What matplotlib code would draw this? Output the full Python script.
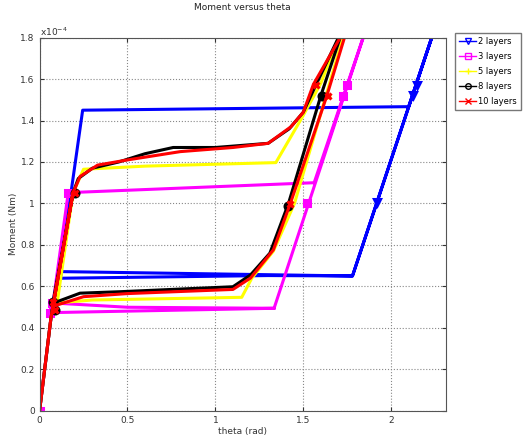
import matplotlib
matplotlib.use("Agg")
import matplotlib.pyplot as plt
from matplotlib.lines import Line2D
from matplotlib.ticker import FuncFormatter
import numpy as np

# moment values in units of 1e-4 Nm
SCALE = 1e-4

labels = ["2 layers", "3 layers", "5 layers", "8 layers", "10 layers"]

# 2 layers
theta_2 = [0, 0.065, 0.17, 0.245, 2.10, 2.27, 2.10, 1.78, 0.125, 0.118, 1.30, 1.78, 2.27]
moment_2 = [0, 0.45, 1.0, 1.45, 1.467, 1.90, 1.467, 0.65, 0.671, 0.639, 0.652, 0.65, 1.90]
mark_theta_2 = [1.917, 2.122, 2.145]
mark_moment_2 = [1.009, 1.524, 1.572]

# 3 layers
theta_3 = [0, 0.065, 0.163, 1.562, 1.88, 1.334, 0.059, 0.068, 0.5, 1.334]
moment_3 = [0, 0.45, 1.052, 1.10, 1.90, 0.494, 0.473, 0.52, 0.499, 0.494]
mark_theta_3 = [0, 0.163, 0.068, 0.059, 1.524, 1.727, 1.748]
mark_moment_3 = [0, 1.052, 0.52, 0.473, 1.0, 1.519, 1.572]

# 5 layers
theta_5 = [0, 0.065, 0.19, 0.25, 0.6, 1.344, 1.49, 1.60, 1.70, 1.76,
           1.45, 1.33, 1.207, 1.15, 0.3, 0.1, 0.19]
moment_5 = [0, 0.45, 1.05, 1.165, 1.18, 1.197, 1.41, 1.58, 1.80, 1.90,
            1.0, 0.77, 0.639, 0.547, 0.534, 0.52, 1.05]
mark_theta_5 = [1.43, 1.64, 0.08, 0.2]
mark_moment_5 = [1.0, 1.52, 0.5, 1.05]

# 8 layers
theta_8 = [0, 0.065, 0.19, 0.22, 0.3, 0.45, 0.6, 0.76, 1.0, 1.3, 1.42, 1.5,
           1.56, 1.70, 1.745, 1.71, 1.60, 1.416, 1.31, 1.2, 1.10, 0.457,
           0.23, 0.075, 0.19]
moment_8 = [0, 0.45, 1.05, 1.12, 1.17, 1.2, 1.24, 1.27, 1.27, 1.29, 1.36, 1.44,
            1.55, 1.80, 1.90, 1.80, 1.52, 1.0, 0.76, 0.655, 0.598, 0.574,
            0.567, 0.518, 1.05]
mark_theta_8 = [1.416, 1.604, 0.077, 0.087, 0.2]
mark_moment_8 = [0.988, 1.52, 0.526, 0.486, 1.049]

# 10 layers
theta_10 = [0, 0.065, 0.19, 0.23, 0.33, 0.5, 0.8, 1.1, 1.3, 1.43, 1.5, 1.558,
            1.71, 1.77, 1.634, 1.425, 1.33, 1.2, 1.1, 0.5, 0.25, 0.1, 0.075,
            0.19]
moment_10 = [0, 0.45, 1.05, 1.13, 1.185, 1.21, 1.25, 1.27, 1.29, 1.37, 1.44,
             1.575, 1.80, 1.90, 1.519, 0.996, 0.776, 0.64, 0.585, 0.565, 0.55,
             0.51, 0.50, 1.05]
mark_theta_10 = [1.572, 1.638, 1.425, 0.077, 0.087, 0.2]
mark_moment_10 = [1.572, 1.519, 0.996, 0.526, 0.486, 1.049]

colors = ["#0000ff", "#ff00ff", "#ffff00", "#000000", "#ff0000"]
markers = ["v", "s", "+", "o", "x"]

series = [
    (theta_2, moment_2, mark_theta_2, mark_moment_2),
    (theta_3, moment_3, mark_theta_3, mark_moment_3),
    (theta_5, moment_5, mark_theta_5, mark_moment_5),
    (theta_8, moment_8, mark_theta_8, mark_moment_8),
    (theta_10, moment_10, mark_theta_10, mark_moment_10),
]

fig = plt.figure(figsize=(5.28, 4.43), dpi=100)
ax = fig.add_axes([0.075, 0.073, 0.769, 0.842])

for (t, m, mt, mm), c, mk in zip(series, colors, markers):
    ax.plot(t, np.array(m) * SCALE, color=c, lw=2.2, solid_joinstyle="round")
    ax.plot(mt, np.array(mm) * SCALE, ls="none", marker=mk, color=c,
            ms=5, mew=2.2)

ax.set_xlim(0, 2.31)
ax.set_ylim(0, 1.8e-4)
ax.set_xticks([0, 0.5, 1, 1.5, 2])
ax.set_yticks(np.arange(0, 1.81, 0.2) * SCALE)
ax.xaxis.set_major_formatter(FuncFormatter(lambda v, p: f"{v:g}"))
ax.yaxis.set_major_formatter(FuncFormatter(lambda v, p: f"{round(v / SCALE, 2):g}"))
ax.text(0, 1.0, r"x10$^{-4}$", transform=ax.transAxes, fontsize=6.5,
        color="#333333", ha="left", va="bottom")

ax.grid(True, ls=":", color="#888888", lw=0.8)
ax.tick_params(direction="in", top=True, right=True, labelsize=6.5,
               colors="#333333", length=3)
for s in ax.spines.values():
    s.set_color("#555555")
    s.set_linewidth(0.8)

ax.set_title("Moment versus theta", fontsize=6.5, color="#222222", pad=20)
ax.set_xlabel("theta (rad)", fontsize=6.5, color="#333333", labelpad=2)
ax.set_ylabel("Moment (Nm)", fontsize=6.5, color="#333333", labelpad=2)

handles = [Line2D([], [], color=c, lw=1, marker=mk, ms=4, mfc="none", mew=1)
           for c, mk in zip(colors, markers)]
fig.legend(handles, labels, loc="upper left", bbox_to_anchor=(0.862, 0.925),
           fontsize=6, frameon=True, fancybox=False, edgecolor="#555555",
           handlelength=2.0, handletextpad=0.3, borderpad=0.5,
           labelspacing=0.7, borderaxespad=0)

fig.savefig("out.png", dpi=100)
